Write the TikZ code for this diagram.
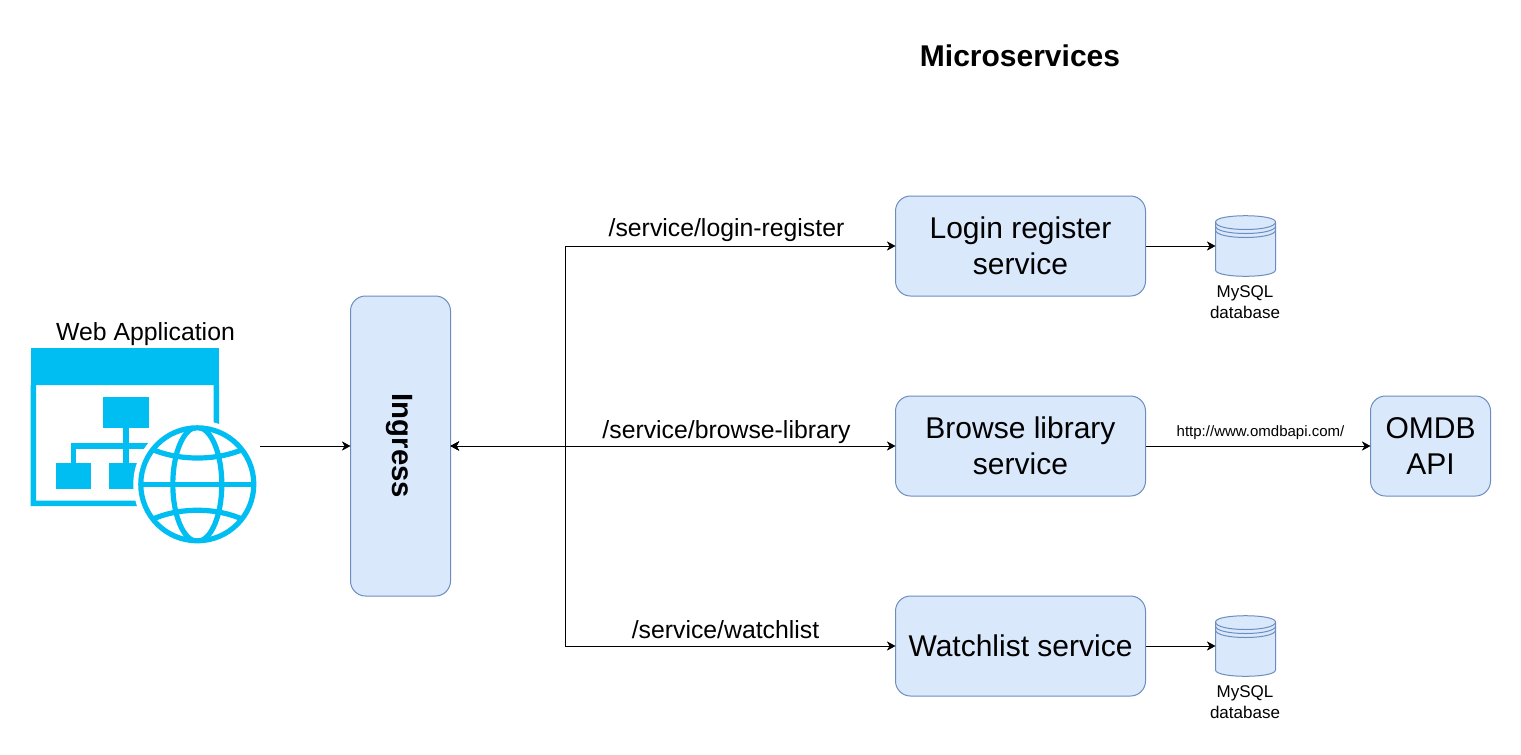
\documentclass[tikz,border=0pt]{standalone}
\usepackage{fontspec}
\setmainfont{Liberation Sans}
\usetikzlibrary{arrows.meta}
\definecolor{boxfill}{HTML}{DAE8FC}
\definecolor{boxline}{HTML}{6C8EBF}
\definecolor{iconblue}{HTML}{00BEF2}
\newcommand{\ptfont}[1]{\fontsize{#1pt}{1.2\dimexpr #1pt\relax}\selectfont}
\newcommand{\dbshape}[2]{%
  \begin{scope}[shift={(#1,#2)}]
    \draw[dbstyle] (0,6) .. controls (0,-2.4) and (60,-2.4) .. (60,6) -- (60,54) .. controls (60,62.4) and (0,62.4) .. (0,54) -- cycle;
    \draw[dbstyle,fill=none] (0,6) .. controls (0,16) and (60,16) .. (60,6);
    \draw[dbstyle,fill=none] (0,10) .. controls (0,20) and (60,20) .. (60,10);
    \draw[dbstyle,fill=none] (0,14) .. controls (0,24) and (60,24) .. (60,14);
  \end{scope}}
\tikzset{
  x=0.75pt,y=-0.75pt,
  svc/.style={draw=boxline,fill=boxfill,rounded corners=11.25pt,line width=0.75pt,outer sep=0pt,inner sep=0pt,align=center,text=black},
  dbstyle/.style={draw=boxline,fill=boxfill,line width=0.75pt},
  dbanchor/.style={minimum width=45pt,minimum height=45pt,inner sep=0pt,outer sep=0pt},
  conn/.style={draw=black,line width=0.75pt,-{Stealth[length=6.5pt,width=7pt,inset=2pt]}},
  connback/.style={draw=black,line width=0.75pt,{Stealth[length=6.5pt,width=7pt,inset=2pt]}-{Stealth[length=6.5pt,width=7pt,inset=2pt]}},
  lbl/.style={inner sep=0pt,outer sep=0pt,align=center,text=black},
  iconfill/.style={fill=iconblue,draw=none},
  iconline/.style={draw=iconblue,line width=3.9pt,fill=none},
}
\begin{document}
\begin{tikzpicture}
\useasboundingbox[fill=white] (0,0) rectangle (1521,754);

% Web application icon
\fill[iconfill] (30.5,348) rectangle (219,385);
\fill[iconfill,even odd rule] (30.5,385) rectangle (219,506) (36,385) rectangle (213.7,500.7);
\fill[iconfill] (102.7,397.3) rectangle (149,428.3);
\fill[iconfill] (56.3,463.3) rectangle (91,489);
\fill[iconfill] (108.7,463.3) rectangle (145,489);
\fill[iconfill] (123.3,428) rectangle (128.7,463.5);
\fill[iconfill] (71,443.3) rectangle (150,448.7);
\fill[iconfill] (71,443.3) rectangle (76.3,463.5);
\fill[white] (197.3,484.3) circle[radius=64];
\begin{scope}
  \clip (197.3,484.3) circle[radius=58];
  \draw[iconline] (197.3,484.3) ellipse[x radius=24.5,y radius=57];
  \draw[iconline] (135,484.3) -- (260,484.3);
  \draw[iconline] (145,446) .. controls (175,462) and (220,462) .. (250,446);
  \draw[iconline] (145,523) .. controls (175,506) and (220,506) .. (250,523);
\end{scope}
\draw[iconline] (197.3,484.3) circle[radius=56.5];
\node[lbl,font=\ptfont{18.6}] (webapp) at (145.5,334) {Web Application};
\coordinate (webout) at (260,446);

% Title
\node[lbl,font=\ptfont{22.5}\bfseries] (title) at (1020,55.5) {Microservices};

% Boxes
\node[svc,minimum width=75pt,minimum height=225pt] (ingress) at (400.5,446) {};
\node[lbl,font=\ptfont{22}\bfseries,rotate=-90] (ingresstext) at (399.5,446) {Ingress};
\node[svc,minimum width=187.5pt,minimum height=75pt,font=\ptfont{22.5}] (login) at (1020.5,246) {Login register\\[0pt]service};
\node[svc,minimum width=187.5pt,minimum height=75pt,font=\ptfont{22.5}] (browse) at (1020.5,446) {Browse library\\[0pt]service};
\node[svc,minimum width=187.5pt,minimum height=75pt,font=\ptfont{22.5}] (watch) at (1020.5,646) {Watchlist service};
\node[svc,minimum width=90pt,minimum height=75pt,font=\ptfont{22.5}] (omdb) at (1430.5,446) {OMDB\\[0pt]API};

% Databases
\dbshape{1215.5}{216}
\dbshape{1215.5}{616}
\node[dbanchor] (dbone) at (1245.5,246) {};
\node[dbanchor] (dbtwo) at (1245.5,646) {};
\node[lbl,font=\ptfont{12.75}] (dbonetext) at (1245,302) {MySQL\\[0pt]database};
\node[lbl,font=\ptfont{12.75}] (dbtwotext) at (1245,702) {MySQL\\[0pt]database};

% Connectors
\coordinate (bus) at (565.5,446);
\draw[conn] (webout) -- (ingress.west);
\draw[connback] (ingress.east) -- (bus) |- (login.west);
\draw[connback] (ingress.east) -- (browse.west);
\draw[connback] (ingress.east) -- (bus) |- (watch.west);
\draw[conn] (login.east) -- (dbone.west);
\draw[conn] (watch.east) -- (dbtwo.west);
\draw[conn] (browse.east) -- (omdb.west);

% Labels
\node[lbl,font=\ptfont{18.6}] (l1) at (726.5,230) {/service/login-register};
\node[lbl,font=\ptfont{18.6}] (l2) at (726.5,432) {/service/browse-library};
\node[lbl,font=\ptfont{18.6}] (l3) at (725.5,630) {/service/watchlist};
\node[lbl,font=\ptfont{11.25}] (l4) at (1260.5,432.5) {http://www.omdbapi.com/};
\end{tikzpicture}
\end{document}
